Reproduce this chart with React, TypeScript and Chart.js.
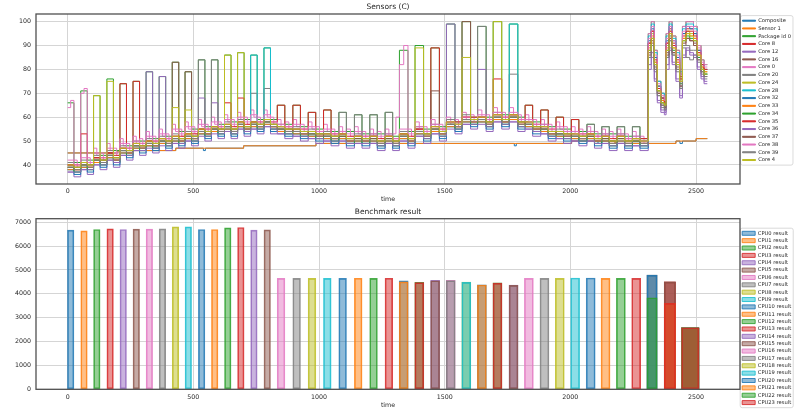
import React, { useEffect, useRef } from 'react';
import { Chart, registerables } from 'chart.js';

Chart.register(...registerables);

const FONT = "'DejaVu Sans', sans-serif";
Chart.defaults.font.family = FONT;

const TAB10 = ['#1f77b4', '#ff7f0e', '#2ca02c', '#d62728', '#9467bd', '#8c564b', '#e377c2', '#7f7f7f', '#bcbd22', '#17becf'];

// ---------------- shared axis ----------------
const X_TICKS = [0, 500, 1000, 1500, 2000, 2500];
const SENSOR_Y_TICKS = [40, 50, 60, 70, 80, 90, 100];
const BENCH_Y_TICKS = [0, 1000, 2000, 3000, 4000, 5000, 6000, 7000];

// ---------------- Sensors (C) ----------------
const SENSOR_LABELS = ['Composite', 'Sensor 1', 'Package id 0', 'Core 8', 'Core 12', 'Core 16', 'Core 0', 'Core 20', 'Core 24', 'Core 28', 'Core 32', 'Core 33', 'Core 34', 'Core 35', 'Core 36', 'Core 37', 'Core 38', 'Core 39', 'Core 4'];

const SENSOR_TIME = [
  0, 25, 52, 78, 103, 129, 156, 182, 208, 234,
  260, 286, 312, 338, 364, 390, 416, 442, 467, 493,
  520, 546, 572, 598, 624, 650, 676, 702, 728, 754,
  781, 807, 834, 864, 896, 926, 957, 987, 1018, 1048,
  1079, 1109, 1141, 1171, 1202, 1232, 1263, 1293, 1320, 1354,
  1382, 1416, 1445, 1479, 1507, 1541, 1569, 1603, 1631, 1665,
  1693, 1727, 1757, 1791, 1820, 1850, 1882, 1912, 1943, 1973,
  2004, 2034, 2066, 2096, 2125, 2155, 2186, 2216, 2247, 2277,
  2310, 2322, 2334, 2346, 2360, 2374, 2381, 2393, 2405, 2420,
  2435, 2446, 2460, 2475, 2490, 2505, 2520, 2532, 2545,
];

const COMPOSITE_T = [0, 200, 430, 540, 548, 700, 988, 1777, 1785, 2005, 2110, 2125, 2178, 2420, 2436, 2446, 2500, 2545];
const COMPOSITE_C = [45, 46, 47, 46, 47, 48, 49, 48, 49, 50, 49, 50, 49, 50, 49, 50, 51, 51];

const SENSOR1_T = [0, 200, 430, 700, 988, 2005, 2178, 2420, 2500, 2545];
const SENSOR1_C = [45, 46, 47, 48, 49, 50, 49, 50, 51, 51];

const PACKAGE_C = [
  66, 41, 71, 42, 69, 44, 76, 46, 74, 48,
  75, 50, 79, 51, 77, 52, 83, 54, 79, 55,
  84, 56, 84, 57, 86, 58, 87, 59, 86, 59,
  89, 59, 65, 57, 65, 56, 62, 55, 63, 54,
  62, 54, 61, 53, 61, 53, 62, 52, 88, 54,
  90, 55, 89, 56, 99, 58, 100, 60, 98, 60,
  100, 61, 99, 60, 65, 58, 63, 56, 60, 55,
  59, 54, 57, 53, 56, 53, 56, 52, 56, 51,
  95, 100, 88, 75, 70, 68, 95, 100, 94, 88,
  80, 98, 100, 100, 98, 90, 84, 82, 82,
];
const CORE8_C = [
  40, 38, 53, 39, 43, 41, 45, 42, 74, 45,
  75, 47, 50, 48, 51, 49, 52, 50, 53, 51,
  55, 53, 56, 54, 66, 54, 68, 55, 58, 56,
  59, 56, 56, 54, 55, 53, 54, 52, 53, 51,
  53, 50, 52, 50, 52, 49, 52, 49, 53, 50,
  55, 52, 89, 53, 58, 56, 60, 58, 60, 57,
  76, 58, 61, 57, 58, 55, 56, 53, 54, 52,
  53, 51, 53, 50, 52, 49, 52, 49, 51, 49,
  91, 96, 85, 73, 68, 66, 91, 97, 91, 85,
  77, 95, 97, 97, 95, 88, 82, 80, 80,
];
const CORE12_C = [
  37, 35, 38, 36, 40, 38, 42, 39, 44, 42,
  46, 44, 79, 45, 77, 46, 49, 47, 50, 48,
  68, 50, 66, 51, 54, 51, 55, 52, 55, 53,
  56, 53, 53, 51, 52, 50, 51, 49, 50, 48,
  50, 47, 49, 47, 49, 46, 49, 46, 50, 47,
  52, 49, 53, 50, 99, 53, 57, 55, 80, 54,
  58, 55, 58, 54, 55, 52, 53, 50, 51, 49,
  50, 48, 50, 47, 49, 46, 49, 46, 48, 46,
  80, 85, 75, 66, 62, 61, 80, 88, 82, 75,
  68, 85, 88, 86, 85, 80, 76, 74, 74,
];
const CORE16_C = [
  40, 38, 41, 39, 43, 41, 45, 42, 47, 45,
  49, 47, 50, 48, 51, 49, 83, 50, 79, 51,
  55, 53, 56, 54, 57, 54, 58, 55, 58, 56,
  59, 56, 56, 54, 55, 53, 54, 52, 53, 51,
  53, 50, 52, 50, 52, 49, 52, 49, 53, 50,
  55, 52, 71, 53, 58, 56, 100, 58, 60, 57,
  61, 58, 61, 57, 58, 55, 56, 53, 54, 52,
  53, 51, 53, 50, 52, 49, 52, 49, 51, 49,
  87, 92, 81, 70, 66, 64, 87, 93, 87, 81,
  73, 91, 93, 92, 91, 85, 80, 78, 78,
];
// Core 0 is sampled twice as densely (it jitters at the top of the band)
const CORE0_T = [
  0, 12, 25, 38, 52, 65, 78, 90, 103, 116, 129, 142, 156, 169, 182, 195, 208, 221, 234, 247,
  260, 273, 286, 299, 312, 325, 338, 351, 364, 377, 390, 403, 416, 429, 442, 454, 467, 480, 493, 506,
  520, 533, 546, 559, 572, 585, 598, 611, 624, 637, 650, 663, 676, 689, 702, 715, 728, 741, 754, 767,
  781, 794, 807, 820, 834, 849, 864, 880, 896, 911, 926, 941, 957, 972, 987, 1002, 1018, 1033, 1048, 1063,
  1079, 1094, 1109, 1125, 1141, 1156, 1171, 1186, 1202, 1217, 1232, 1247, 1263, 1278, 1293, 1306, 1320, 1337, 1354, 1368,
  1382, 1399, 1416, 1430, 1445, 1462, 1479, 1493, 1507, 1524, 1541, 1555, 1569, 1586, 1603, 1617, 1631, 1648, 1665, 1679,
  1693, 1710, 1727, 1742, 1757, 1774, 1791, 1805, 1820, 1835, 1850, 1866, 1882, 1897, 1912, 1927, 1943, 1958, 1973, 1988,
  2004, 2019, 2034, 2050, 2066, 2081, 2096, 2110, 2125, 2140, 2155, 2170, 2186, 2201, 2216, 2231, 2247, 2262, 2277, 2293,
  2310, 2322, 2334, 2346, 2360, 2374, 2381, 2393, 2405, 2420, 2435, 2446, 2460, 2475, 2490, 2505, 2520, 2532, 2545,
];
const CORE0_C = [
  64, 67, 42, 39, 70, 72, 43, 40, 47, 44, 45, 42, 49, 46, 47, 44, 51, 48, 49, 46,
  52, 49, 51, 48, 54, 51, 52, 49, 55, 52, 53, 50, 57, 54, 55, 52, 58, 55, 56, 53,
  59, 56, 57, 54, 60, 57, 58, 55, 61, 58, 59, 56, 62, 59, 60, 57, 63, 60, 60, 57,
  63, 60, 60, 57, 59, 56, 58, 55, 59, 56, 57, 54, 58, 55, 56, 53, 57, 54, 55, 52,
  56, 53, 55, 52, 56, 53, 54, 51, 55, 52, 54, 51, 55, 52, 53, 60, 82, 90, 55, 52,
  58, 55, 56, 53, 59, 56, 57, 54, 60, 57, 59, 56, 62, 59, 61, 58, 63, 60, 61, 58,
  64, 61, 62, 59, 64, 61, 61, 58, 61, 58, 59, 56, 59, 56, 57, 54, 58, 55, 56, 53,
  56, 53, 55, 52, 56, 53, 54, 51, 55, 52, 54, 51, 55, 52, 53, 50, 54, 51, 52, 49,
  95, 100, 88, 75, 70, 68, 95, 100, 94, 88, 80, 98, 100, 100, 98, 90, 84, 82, 82,
];
const CORE20_C = [
  41, 39, 42, 40, 44, 42, 46, 43, 48, 46,
  50, 48, 51, 49, 52, 50, 53, 51, 54, 52,
  84, 54, 84, 55, 58, 55, 59, 56, 70, 57,
  72, 57, 57, 55, 56, 54, 55, 53, 54, 52,
  54, 51, 53, 51, 53, 50, 53, 50, 54, 51,
  56, 53, 57, 54, 59, 57, 61, 59, 98, 58,
  62, 59, 78, 58, 59, 56, 57, 54, 55, 53,
  54, 52, 54, 51, 53, 50, 53, 50, 52, 50,
  85, 90, 79, 69, 64, 63, 85, 92, 86, 79,
  72, 89, 85, 84, 86, 83, 78, 76, 76,
];
const CORE24_C = [
  39, 39, 40, 40, 42, 42, 44, 43, 46, 46,
  48, 48, 49, 49, 50, 50, 64, 51, 63, 52,
  54, 54, 55, 55, 86, 55, 87, 56, 57, 57,
  58, 57, 55, 55, 54, 54, 53, 53, 52, 52,
  52, 51, 51, 51, 51, 50, 51, 50, 52, 51,
  54, 53, 55, 54, 57, 57, 59, 59, 59, 58,
  100, 59, 60, 58, 57, 56, 55, 54, 53, 53,
  52, 52, 52, 51, 51, 50, 51, 50, 50, 50,
  90, 95, 83, 72, 67, 66, 90, 96, 90, 83,
  76, 93, 96, 95, 93, 87, 81, 79, 79,
];
const CORE28_C = [
  38, 37, 39, 38, 41, 40, 43, 41, 45, 44,
  47, 46, 48, 47, 49, 48, 50, 49, 51, 50,
  53, 52, 54, 53, 55, 53, 56, 54, 86, 55,
  89, 55, 54, 53, 53, 52, 52, 51, 51, 50,
  51, 49, 50, 49, 50, 48, 50, 48, 51, 49,
  53, 51, 54, 52, 56, 55, 58, 57, 58, 56,
  59, 57, 99, 56, 56, 54, 54, 52, 52, 51,
  51, 50, 51, 49, 50, 48, 50, 48, 49, 48,
  94, 99, 87, 75, 70, 68, 94, 99, 93, 87,
  79, 97, 99, 99, 97, 85, 80, 78, 78,
];
const CORE32_C = [
  38, 36, 39, 37, 41, 39, 43, 40, 45, 43,
  47, 45, 48, 46, 49, 47, 50, 48, 51, 49,
  53, 51, 54, 52, 55, 52, 56, 53, 56, 54,
  57, 54, 54, 52, 53, 51, 52, 50, 51, 49,
  51, 48, 50, 48, 50, 47, 50, 47, 51, 48,
  53, 50, 54, 51, 56, 54, 58, 56, 58, 55,
  59, 56, 59, 55, 56, 53, 54, 51, 52, 50,
  51, 49, 51, 48, 50, 47, 50, 47, 49, 47,
  92, 97, 85, 73, 68, 67, 92, 98, 92, 85,
  78, 95, 98, 97, 95, 88, 82, 80, 80,
];
const CORE33_C = [
  38, 38, 39, 39, 41, 41, 43, 42, 45, 45,
  47, 47, 48, 48, 49, 49, 50, 50, 51, 51,
  53, 53, 54, 54, 55, 54, 56, 55, 56, 56,
  57, 56, 54, 54, 53, 53, 52, 52, 51, 51,
  51, 50, 50, 50, 50, 49, 50, 49, 51, 50,
  53, 52, 54, 53, 56, 56, 58, 58, 58, 57,
  59, 58, 59, 57, 56, 55, 54, 53, 52, 52,
  51, 51, 51, 50, 50, 49, 50, 49, 49, 49,
  89, 94, 83, 71, 67, 65, 89, 95, 89, 83,
  75, 93, 95, 94, 93, 86, 81, 79, 79,
];
const CORE34_C = [
  39, 37, 40, 38, 42, 40, 44, 41, 46, 44,
  48, 46, 49, 47, 50, 48, 51, 49, 52, 50,
  54, 52, 55, 53, 56, 53, 57, 54, 57, 55,
  58, 55, 55, 53, 54, 52, 53, 51, 52, 50,
  52, 49, 51, 49, 51, 48, 51, 48, 52, 49,
  54, 51, 55, 52, 57, 55, 59, 57, 59, 56,
  60, 57, 60, 56, 57, 54, 55, 52, 53, 51,
  52, 50, 52, 49, 51, 48, 51, 48, 50, 48,
  88, 93, 82, 71, 66, 65, 88, 94, 88, 82,
  74, 92, 94, 93, 92, 85, 80, 78, 78,
];
const CORE35_C = [
  40, 40, 41, 41, 43, 43, 45, 44, 47, 47,
  49, 49, 50, 50, 51, 51, 52, 52, 53, 53,
  55, 55, 56, 56, 57, 56, 58, 57, 58, 58,
  59, 58, 65, 56, 65, 55, 62, 54, 63, 53,
  53, 52, 52, 52, 52, 51, 52, 51, 53, 52,
  55, 54, 56, 55, 58, 58, 60, 60, 60, 59,
  61, 60, 61, 59, 65, 57, 63, 55, 60, 54,
  59, 53, 53, 52, 52, 51, 52, 51, 51, 51,
  91, 96, 84, 72, 68, 66, 91, 96, 90, 84,
  76, 94, 96, 96, 94, 87, 82, 80, 80,
];
const CORE36_C = [
  37, 37, 38, 38, 40, 40, 42, 41, 44, 44,
  46, 46, 47, 47, 48, 48, 49, 49, 50, 50,
  52, 52, 53, 53, 54, 53, 55, 54, 55, 55,
  56, 55, 53, 53, 52, 52, 51, 51, 50, 50,
  50, 49, 49, 49, 49, 48, 49, 48, 50, 49,
  52, 51, 53, 52, 55, 55, 57, 57, 57, 56,
  58, 57, 58, 56, 55, 54, 53, 52, 51, 51,
  50, 50, 50, 49, 49, 48, 49, 48, 48, 48,
  82, 87, 76, 67, 63, 62, 82, 89, 83, 76,
  69, 86, 89, 87, 86, 81, 77, 75, 75,
];
const CORE37_C = [
  39, 39, 40, 40, 42, 42, 44, 43, 46, 46,
  48, 48, 49, 49, 50, 50, 51, 51, 52, 52,
  54, 54, 55, 55, 56, 55, 57, 56, 57, 57,
  58, 57, 55, 55, 54, 54, 53, 53, 52, 52,
  52, 51, 51, 51, 51, 50, 51, 50, 52, 51,
  54, 53, 55, 54, 57, 57, 59, 59, 59, 58,
  60, 59, 60, 58, 57, 56, 55, 54, 53, 53,
  52, 52, 52, 51, 51, 50, 51, 50, 50, 50,
  86, 91, 80, 70, 65, 64, 86, 93, 87, 80,
  73, 90, 93, 92, 90, 84, 79, 77, 77,
];
const CORE38_C = [
  42, 40, 43, 41, 45, 43, 47, 45, 49, 47,
  50, 49, 52, 50, 53, 51, 55, 53, 56, 54,
  57, 55, 58, 56, 59, 57, 60, 58, 61, 58,
  61, 58, 57, 56, 57, 55, 56, 54, 55, 53,
  54, 53, 54, 52, 53, 52, 53, 51, 55, 53,
  56, 54, 57, 55, 58, 57, 60, 59, 61, 59,
  62, 60, 62, 59, 59, 57, 57, 55, 56, 54,
  54, 53, 54, 52, 53, 52, 53, 51, 52, 50,
  93, 98, 86, 74, 69, 67, 93, 98, 92, 86,
  78, 96, 98, 98, 96, 89, 83, 81, 81,
];
const CORE39_C = [
  39, 38, 40, 39, 42, 41, 44, 42, 46, 45,
  48, 47, 49, 48, 50, 49, 51, 50, 52, 51,
  54, 53, 55, 54, 56, 54, 57, 55, 57, 56,
  58, 56, 55, 54, 54, 53, 53, 52, 52, 51,
  62, 50, 61, 50, 61, 49, 62, 49, 52, 50,
  54, 52, 55, 53, 57, 56, 59, 58, 59, 57,
  60, 58, 60, 57, 57, 55, 55, 53, 53, 52,
  52, 51, 57, 50, 56, 49, 56, 49, 56, 49,
  85, 90, 80, 69, 65, 63, 85, 92, 86, 80,
  72, 90, 90, 88, 88, 84, 79, 77, 77,
];
const CORE4_C = [
  40, 39, 41, 40, 69, 42, 75, 43, 47, 46,
  49, 48, 50, 49, 51, 50, 52, 51, 53, 52,
  55, 54, 56, 55, 57, 55, 58, 56, 58, 57,
  59, 57, 56, 55, 55, 54, 54, 53, 53, 52,
  53, 51, 52, 51, 52, 50, 52, 50, 53, 51,
  89, 53, 56, 54, 58, 57, 85, 59, 60, 58,
  61, 59, 61, 58, 58, 56, 56, 54, 54, 53,
  53, 52, 53, 51, 52, 50, 52, 50, 51, 50,
  88, 93, 82, 71, 66, 65, 88, 95, 89, 82,
  75, 92, 95, 94, 92, 86, 80, 78, 78,
];

// ---------------- Benchmark result ----------------
const CPU_LABELS = ['CPU0 result', 'CPU1 result', 'CPU2 result', 'CPU3 result', 'CPU4 result', 'CPU5 result', 'CPU6 result', 'CPU7 result', 'CPU8 result', 'CPU9 result', 'CPU10 result', 'CPU11 result', 'CPU12 result', 'CPU13 result', 'CPU14 result', 'CPU15 result', 'CPU16 result', 'CPU17 result', 'CPU18 result', 'CPU19 result', 'CPU20 result', 'CPU21 result', 'CPU22 result', 'CPU23 result'];

// single thread runs on CPU0..CPU15
const P_SINGLE_X = [12, 65, 116, 169, 221, 273, 325, 377, 429, 480, 533, 585, 637, 689, 741, 794];
const P_SINGLE_SCORE = [6665, 6637, 6693, 6721, 6693, 6707, 6707, 6721, 6805, 6805, 6693, 6693, 6763, 6777, 6665, 6679];
// single runs on CPU16..CPU23
const E_SINGLE_X = [849, 911, 972, 1033, 1094, 1156, 1217, 1278];
const E_SINGLE_SCORE = [4645, 4645, 4645, 4645, 4645, 4650, 4645, 4650];
// sibling pair runs (CPU 2k and 2k+1 together)
const P_PAIR_X = [1337, 1399, 1462, 1524, 1586, 1648, 1710, 1774];
const P_PAIR_SCORE_EVEN = [4545, 4480, 4561, 4561, 4490, 4380, 4460, 4364];
const P_PAIR_SCORE_ODD = [4502, 4470, 4545, 4550, 4480, 4370, 4450, 4350];
// second pass on CPU16..CPU23
const E_SINGLE2_X = [1835, 1897, 1958, 2019, 2081, 2140, 2201, 2262];
const E_SINGLE2_SCORE = [4645, 4645, 4645, 4660, 4660, 4645, 4645, 4645];
// grouped runs
const MIX_A_X = 2325;
const MIX_A_SCORE = [null, null, null, null, null, null, null, 4783, null, null, null, null, null, null, null, null, null, 4783, null, null, 4783, null, 3833, null];
const MIX_B_X = 2396;
const MIX_B_SCORE = [null, null, null, null, null, 4502, null, null, null, null, null, null, null, 4502, null, 4502, null, null, null, null, null, 3598, null, 3598];
const ALL_X = 2477;
const ALL_SCORE = [2578, 2578, 2578, 2578, 2578, 2578, 2578, 2578, 2578, 2578, 2578, 2578, 2578, 2578, 2369, 2578, 2578, 2578, 2578, 2578, 2578, 2578, 2578, 2578];

// ---------------- helpers ----------------
function rgba(hex: string, a: number) {
  const n = parseInt(hex.slice(1), 16);
  return `rgba(${(n >> 16) & 255},${(n >> 8) & 255},${n & 255},${a})`;
}
const pts = (t: number[], v: number[]) => t.map((x, i) => ({ x, y: v[i] }));

const TEXT = '#262626';
const GRID = '#d5d5d5';

function xAxis(height: number, titlePadBottom: number) {
  return {
    type: 'linear',
    min: -126,
    max: 2675,
    offset: false,
    afterBuildTicks: (s: any) => { s.ticks = X_TICKS.map((v) => ({ value: v })); },
    afterFit: (s: any) => { s.height = height; },
    grid: { color: GRID, lineWidth: 1, drawTicks: false, offset: false },
    border: { display: false },
    ticks: { font: { size: 6.3, family: FONT }, color: TEXT, padding: 4, maxRotation: 0, autoSkip: false, callback: (v: any) => String(v) },
    title: { display: true, text: 'time', font: { size: 6.3, family: FONT }, color: TEXT, padding: { top: 0, bottom: titlePadBottom } },
  };
}
function yAxis(min: number, max: number, ticks: number[]) {
  return {
    type: 'linear',
    min,
    max,
    afterBuildTicks: (s: any) => { s.ticks = ticks.map((v) => ({ value: v })); },
    afterFit: (s: any) => { s.width = 36; },
    grid: { color: GRID, lineWidth: 1, drawTicks: false },
    border: { display: false },
    ticks: { font: { size: 6.3, family: FONT }, color: TEXT, padding: 5, callback: (v: any) => String(v) },
  };
}

const framePlugin = {
  id: 'mplFrame',
  beforeDraw(chart: any) {
    const lg = chart.legend;
    if (!lg || !lg.legendHitBoxes || !lg.legendHitBoxes.length) return;
    let l = Infinity, t = Infinity, r = -Infinity, b = -Infinity;
    lg.legendHitBoxes.forEach((h: any, i: number) => {
      if (!lg.legendItems[i]) return;
      l = Math.min(l, h.left); t = Math.min(t, h.top);
      r = Math.max(r, h.left + h.width); b = Math.max(b, h.top + h.height);
    });
    const ctx = chart.ctx;
    ctx.save();
    ctx.beginPath();
    ctx.roundRect(l - 2, t - 2.5, r - l + 4, b - t + 5, 2);
    ctx.fillStyle = 'rgba(255,255,255,0.9)';
    ctx.fill();
    ctx.strokeStyle = '#d0d0d0';
    ctx.lineWidth = 0.8;
    ctx.stroke();
    ctx.restore();
  },
  afterDraw(chart: any) {
    const { ctx, chartArea: a } = chart;
    ctx.save();
    ctx.strokeStyle = '#505050';
    ctx.lineWidth = 1.3;
    ctx.strokeRect(a.left, a.top, a.right - a.left, a.bottom - a.top);
    ctx.restore();
  },
};

const SENSOR_SERIES: [number[], number[]][] = [
  [COMPOSITE_T, COMPOSITE_C],
  [SENSOR1_T, SENSOR1_C],
  [SENSOR_TIME, PACKAGE_C],
  [SENSOR_TIME, CORE8_C],
  [SENSOR_TIME, CORE12_C],
  [SENSOR_TIME, CORE16_C],
  [CORE0_T, CORE0_C],
  [SENSOR_TIME, CORE20_C],
  [SENSOR_TIME, CORE24_C],
  [SENSOR_TIME, CORE28_C],
  [SENSOR_TIME, CORE32_C],
  [SENSOR_TIME, CORE33_C],
  [SENSOR_TIME, CORE34_C],
  [SENSOR_TIME, CORE35_C],
  [SENSOR_TIME, CORE36_C],
  [SENSOR_TIME, CORE37_C],
  [SENSOR_TIME, CORE38_C],
  [SENSOR_TIME, CORE39_C],
  [SENSOR_TIME, CORE4_C],
];

function sensorConfig(): any {
  return {
    type: 'line',
    data: {
      datasets: SENSOR_LABELS.map((label, i) => ({
        label,
        data: pts(SENSOR_SERIES[i][0], SENSOR_SERIES[i][1]),
        borderColor: TAB10[i % 10],
        backgroundColor: TAB10[i % 10],
        borderWidth: 1,
        pointRadius: 0,
        stepped: 'before',
        fill: false,
        order: -i,
      })),
    },
    options: {
      animation: false,
      responsive: false,
      maintainAspectRatio: false,
      devicePixelRatio: 1,
      events: [],
      layout: { padding: { left: 0, right: 2, top: 0, bottom: 0 } },
      scales: {
        x: xAxis(26, 6.7),
        y: yAxis(32, 103.2, SENSOR_Y_TICKS),
      },
      plugins: {
        tooltip: { enabled: false },
        title: { display: true, text: 'Sensors (C)', fullSize: false, color: TEXT, font: { size: 7.5, family: FONT, weight: 'normal', lineHeight: 1.2 }, padding: { top: 2.8, bottom: 2.2 } },
        legend: {
          position: 'right',
          align: 'start',
          maxWidth: 58,
          title: { display: true, text: '', font: { size: 10, lineHeight: 1 }, padding: { top: 5.56, bottom: 0 } },
          labels: {
            boxWidth: 13,
            boxHeight: 1,
            padding: 2.54,
            color: TEXT,
            font: { size: 5.2, family: FONT },
            sort: (a: any, b: any) => a.datasetIndex - b.datasetIndex,
          },
        },
      },
    },
    plugins: [framePlugin],
  };
}

function benchDatasets() {
  const ds: any[] = [];
  for (let n = 0; n < 24; n++) {
    const bars: [number, number, number][] = [];
    if (n < 16) {
      bars.push([P_SINGLE_X[n], P_SINGLE_SCORE[n], 6.5]);
      bars.push([P_PAIR_X[n >> 1], (n % 2 === 0 ? P_PAIR_SCORE_EVEN : P_PAIR_SCORE_ODD)[n >> 1], 9]);
    } else {
      bars.push([E_SINGLE_X[n - 16], E_SINGLE_SCORE[n - 16], 7.7]);
      bars.push([E_SINGLE2_X[n - 16], E_SINGLE2_SCORE[n - 16], 9]);
    }
    if (MIX_A_SCORE[n] != null) bars.push([MIX_A_X, MIX_A_SCORE[n] as number, 10.3]);
    if (MIX_B_SCORE[n] != null) bars.push([MIX_B_X, MIX_B_SCORE[n] as number, 11.3]);
    bars.push([ALL_X, ALL_SCORE[n], 17.3]);
    const c = TAB10[n % 10];
    bars.forEach(([x, y, w], k) => {
      ds.push({
        label: CPU_LABELS[n],
        cpu: n,
        inLegend: k === 0,
        data: [{ x, y }],
        barThickness: w,
        grouped: false,
        backgroundColor: rgba(c, 0.5),
        borderColor: rgba(c, 0.85),
        borderWidth: 1,
        borderSkipped: false,
        order: -n,
      });
    });
  }
  return ds;
}

function benchConfig(): any {
  return {
    type: 'bar',
    data: { datasets: benchDatasets() },
    options: {
      animation: false,
      responsive: false,
      maintainAspectRatio: false,
      devicePixelRatio: 1,
      events: [],
      layout: { padding: { left: 0, right: 2, top: 0, bottom: 0 } },
      scales: {
        x: xAxis(20.7, 1.2),
        y: yAxis(0, 7145, BENCH_Y_TICKS),
      },
      plugins: {
        tooltip: { enabled: false },
        title: { display: true, text: 'Benchmark result', fullSize: false, color: TEXT, font: { size: 7.5, family: FONT, weight: 'normal', lineHeight: 1.2 }, padding: { top: 7.8, bottom: 1.9 } },
        legend: {
          position: 'right',
          align: 'start',
          maxWidth: 58,
          title: { display: true, text: '', font: { size: 10, lineHeight: 1 }, padding: { top: 18.54, bottom: 0 } },
          labels: {
            boxWidth: 13,
            boxHeight: 4,
            padding: 2.16,
            color: TEXT,
            font: { size: 5.2, family: FONT },
            filter: (item: any, data: any) => data.datasets[item.datasetIndex].inLegend,
            sort: (a: any, b: any, data: any) => data.datasets[a.datasetIndex].cpu - data.datasets[b.datasetIndex].cpu,
          },
        },
      },
    },
    plugins: [framePlugin],
  };
}

function ChartCanvas({ top, config }: { top: number; config: () => any }) {
  const ref = useRef<HTMLCanvasElement | null>(null);
  useEffect(() => {
    if (!ref.current) return;
    const chart = new Chart(ref.current, config());
    return () => chart.destroy();
  }, []);
  return (
    <canvas
      ref={ref}
      width={800}
      height={210}
      style={{ position: 'absolute', left: 0, top, width: 800, height: 210 }}
    />
  );
}

export default function App() {
  return (
    <div style={{ position: 'absolute', left: 0, top: 0, width: 800, height: 410, background: '#fff' }}>
      <ChartCanvas top={0} config={sensorConfig} />
      <ChartCanvas top={200} config={benchConfig} />
    </div>
  );
}
